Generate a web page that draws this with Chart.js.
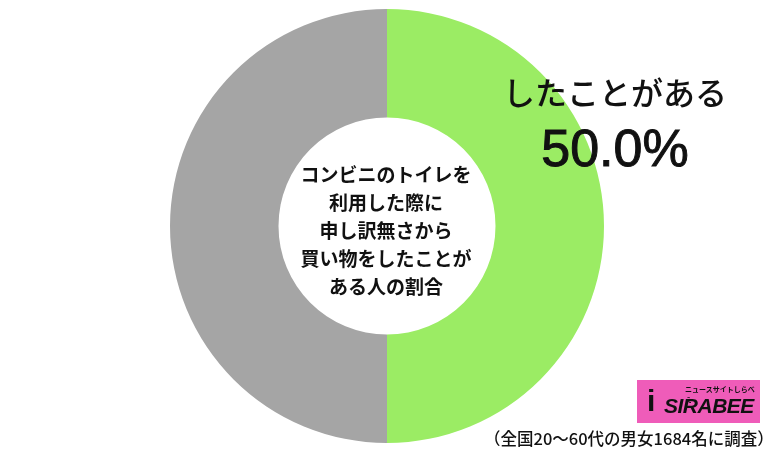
<!DOCTYPE html>
<html lang="ja">
<head>
<meta charset="UTF-8">
<title>コンビニのトイレ 調査</title>
<script src="https://cdn.jsdelivr.net/npm/chart.js"></script>
<style>
    body { margin: 0; background: #fff; }
    .wrap { position: relative; width: 768px; height: 453px; overflow: hidden; font-family: "Noto Sans CJK JP", sans-serif; }
    .txt { position: absolute; color: #111; white-space: nowrap; }
    .center-title { left: 286px; top: 160px; width: 200px; text-align: center; font-size: 19px; font-weight: bold; line-height: 28px; }
    .label { left: 500px; top: 68px; width: 230px; text-align: center; font-size: 32px; font-weight: 500; }
    .pct { left: 500px; top: 118px; width: 230px; text-align: center; font-family: "Liberation Sans", Arial, sans-serif; font-size: 52px; -webkit-text-stroke: 1px #111; }
    .note { left: 484px; top: 426px; font-size: 16.5px; font-weight: 500; }
    .logo { position: absolute; left: 637px; top: 380px; width: 123px; height: 43px; background: #ef5cb9; overflow: hidden; }
    .logo .sub { position: absolute; left: 48px; top: 4px; font-size: 7px; font-weight: bold; color: #111; }
    .logo .main { position: absolute; left: 27px; top: 14px; font-family: "Liberation Sans", sans-serif; font-size: 21px; font-weight: bold; font-style: italic; color: #111; letter-spacing: -0.5px; }
    .logo .ic { position: absolute; left: 10px; top: 4px; font-family: "Liberation Sans", sans-serif; font-size: 30px; font-weight: bold; color: #111; }
</style>
</head>
<body>
<div class="wrap">
    <canvas id="donut" width="768" height="453"></canvas>
    <div class="txt center-title">コンビニのトイレを<br>利用した際に<br>申し訳無さから<br>買い物をしたことが<br>ある人の割合</div>
    <div class="txt label">したことがある</div>
    <div class="txt pct">50.0%</div>
    <div class="txt note">（全国20〜60代の男女1684名に調査）</div>
    <div class="logo">
        <span class="ic">i</span>
        <span class="sub">ニュースサイトしらべぇ</span>
        <span class="main">SIRABEE</span>
    </div>
</div>
<script>
    // data
    const categories = ['したことがある', 'したことがない'];
    const values = [50.0, 50.0];
    const colors = ['#9bec64', '#a5a5a5'];

    new Chart(document.getElementById('donut'), {
        type: 'doughnut',
        data: {
            labels: categories,
            datasets: [{
                data: values,
                backgroundColor: colors,
                borderWidth: 0
            }]
        },
        options: {
            responsive: false,
            animation: false,
            cutout: '50%',
            layout: { padding: { left: 170, right: 164, top: 9, bottom: 10 } },
            plugins: {
                legend: { display: false },
                tooltip: { enabled: false }
            }
        }
    });
</script>
</body>
</html>
